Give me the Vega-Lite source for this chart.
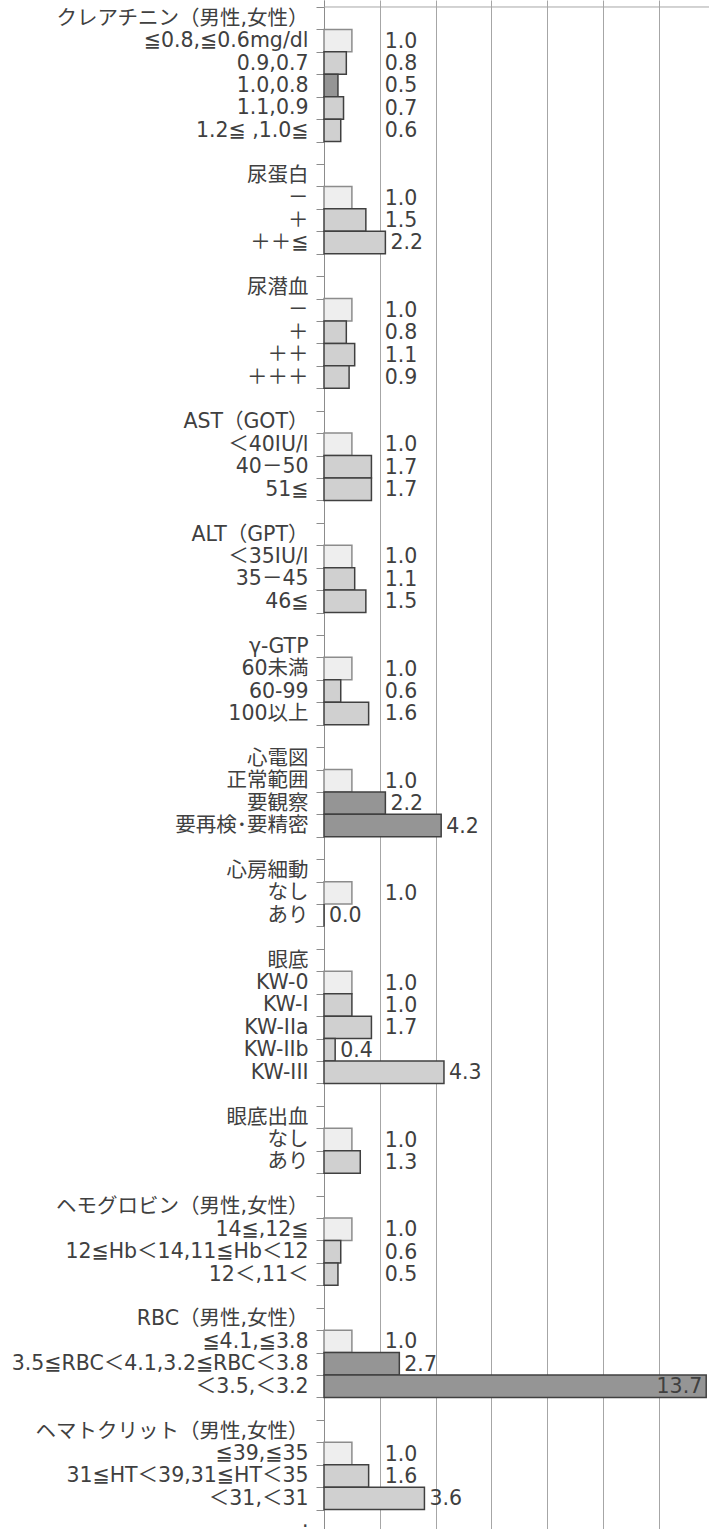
{
  "$schema": "https://vega.github.io/schema/vega-lite/v6.json",
  "autosize": {"type": "none"},
  "padding": {"left": 324, "top": 0, "right": 0, "bottom": 0},
  "width": 385,
  "height": 1539,
  "background": "white",
  "config": {"view": {"stroke": null}, "font": "DejaVu Sans, Noto Sans CJK JP"},
  "data": {"values": [
    {"key": "クレアチニン（男性,女性）|h1"},
    {"key": "≦0.8,≦0.6mg/dl|1", "value": 1.0, "type": "ref"},
    {"key": "0.9,0.7|1", "value": 0.8, "type": "ns"},
    {"key": "1.0,0.8|1", "value": 0.5, "type": "sig"},
    {"key": "1.1,0.9|1", "value": 0.7, "type": "ns"},
    {"key": "1.2≦ ,1.0≦|1", "value": 0.6, "type": "ns"},
    {"key": "|b1"},
    {"key": "尿蛋白|h2"},
    {"key": "－|2", "value": 1.0, "type": "ref"},
    {"key": "＋|2", "value": 1.5, "type": "ns"},
    {"key": "＋＋≦|2", "value": 2.2, "type": "ns"},
    {"key": "|b2"},
    {"key": "尿潜血|h3"},
    {"key": "－|3", "value": 1.0, "type": "ref"},
    {"key": "＋|3", "value": 0.8, "type": "ns"},
    {"key": "＋＋|3", "value": 1.1, "type": "ns"},
    {"key": "＋＋＋|3", "value": 0.9, "type": "ns"},
    {"key": "|b3"},
    {"key": "AST（GOT）|h4"},
    {"key": "＜40IU/l|4", "value": 1.0, "type": "ref"},
    {"key": "40－50|4", "value": 1.7, "type": "ns"},
    {"key": "51≦|4", "value": 1.7, "type": "ns"},
    {"key": "|b4"},
    {"key": "ALT（GPT）|h5"},
    {"key": "＜35IU/l|5", "value": 1.0, "type": "ref"},
    {"key": "35－45|5", "value": 1.1, "type": "ns"},
    {"key": "46≦|5", "value": 1.5, "type": "ns"},
    {"key": "|b5"},
    {"key": "γ-GTP|h6"},
    {"key": "60未満|6", "value": 1.0, "type": "ref"},
    {"key": "60-99|6", "value": 0.6, "type": "ns"},
    {"key": "100以上|6", "value": 1.6, "type": "ns"},
    {"key": "|b6"},
    {"key": "心電図|h7"},
    {"key": "正常範囲|7", "value": 1.0, "type": "ref"},
    {"key": "要観察|7", "value": 2.2, "type": "sig"},
    {"key": "要再検･要精密|7", "value": 4.2, "type": "sig"},
    {"key": "|b7"},
    {"key": "心房細動|h8"},
    {"key": "なし|8", "value": 1.0, "type": "ref"},
    {"key": "あり|8", "value": 0.0, "type": "ns"},
    {"key": "|b8"},
    {"key": "眼底|h9"},
    {"key": "KW-0|9", "value": 1.0, "type": "ref"},
    {"key": "KW-I|9", "value": 1.0, "type": "ns"},
    {"key": "KW-IIa|9", "value": 1.7, "type": "ns"},
    {"key": "KW-IIb|9", "value": 0.4, "type": "ns"},
    {"key": "KW-III|9", "value": 4.3, "type": "ns"},
    {"key": "|b9"},
    {"key": "眼底出血|h10"},
    {"key": "なし|10", "value": 1.0, "type": "ref"},
    {"key": "あり|10", "value": 1.3, "type": "ns"},
    {"key": "|b10"},
    {"key": "ヘモグロビン（男性,女性）|h11"},
    {"key": "14≦,12≦|11", "value": 1.0, "type": "ref"},
    {"key": "12≦Hb＜14,11≦Hb＜12|11", "value": 0.6, "type": "ns"},
    {"key": "12＜,11＜|11", "value": 0.5, "type": "ns"},
    {"key": "|b11"},
    {"key": "RBC（男性,女性）|h12"},
    {"key": "≦4.1,≦3.8|12", "value": 1.0, "type": "ref"},
    {"key": "3.5≦RBC＜4.1,3.2≦RBC＜3.8|12", "value": 2.7, "type": "sig"},
    {"key": "＜3.5,＜3.2|12", "value": 13.7, "type": "sig"},
    {"key": "|b12"},
    {"key": "ヘマトクリット（男性,女性）|h13"},
    {"key": "≦39,≦35|13", "value": 1.0, "type": "ref"},
    {"key": "31≦HT＜39,31≦HT＜35|13", "value": 1.6, "type": "ns"},
    {"key": "＜31,＜31|13", "value": 3.6, "type": "ns"},
    {"key": ".|14"}
  ]},
  "encoding": {
    "y": {
      "field": "key", "type": "nominal", "sort": null,
      "scale": {
        "domain": [
          "クレアチニン（男性,女性）|h1", "≦0.8,≦0.6mg/dl|1", "0.9,0.7|1", "1.0,0.8|1", "1.1,0.9|1", "1.2≦ ,1.0≦|1", "|b1",
          "尿蛋白|h2", "－|2", "＋|2", "＋＋≦|2", "|b2",
          "尿潜血|h3", "－|3", "＋|3", "＋＋|3", "＋＋＋|3", "|b3",
          "AST（GOT）|h4", "＜40IU/l|4", "40－50|4", "51≦|4", "|b4",
          "ALT（GPT）|h5", "＜35IU/l|5", "35－45|5", "46≦|5", "|b5",
          "γ-GTP|h6", "60未満|6", "60-99|6", "100以上|6", "|b6",
          "心電図|h7", "正常範囲|7", "要観察|7", "要再検･要精密|7", "|b7",
          "心房細動|h8", "なし|8", "あり|8", "|b8",
          "眼底|h9", "KW-0|9", "KW-I|9", "KW-IIa|9", "KW-IIb|9", "KW-III|9", "|b9",
          "眼底出血|h10", "なし|10", "あり|10", "|b10",
          "ヘモグロビン（男性,女性）|h11", "14≦,12≦|11", "12≦Hb＜14,11≦Hb＜12|11", "12＜,11＜|11", "|b11",
          "RBC（男性,女性）|h12", "≦4.1,≦3.8|12", "3.5≦RBC＜4.1,3.2≦RBC＜3.8|12", "＜3.5,＜3.2|12", "|b12",
          "ヘマトクリット（男性,女性）|h13", "≦39,≦35|13", "31≦HT＜39,31≦HT＜35|13", "＜31,＜31|13", ".|14"
        ],
        "paddingInner": 0, "paddingOuter": 0.312
      },
      "axis": {
        "title": null,
        "labelExpr": "split(datum.label, '|')[0]",
        "tickBand": "extent",
        "ticks": true,
        "tickSize": 8,
        "tickWidth": 1,
        "tickColor": "#8c8c8c",
        "domainColor": "#8c8c8c",
        "labelFontSize": 20.5,
        "labelColor": "#404040",
        "labelPadding": 8,
        "labelLimit": 400
      }
    }
  },
  "layer": [
    {
      "mark": {"type": "bar", "strokeWidth": 1.5},
      "encoding": {
        "x": {
          "field": "value", "type": "quantitative",
          "scale": {"domain": [0, 13.8], "nice": false, "zero": true},
          "axis": {"title": null, "values": [0, 2, 4, 6, 8, 10, 12], "labels": false, "ticks": false, "domain": false, "grid": true, "gridColor": "#a6a6a6", "gridWidth": 1}
        },
        "fill": {"field": "type", "type": "nominal", "scale": {"domain": ["ref", "ns", "sig"], "range": ["#eeeeee", "#d0d0d0", "#959595"]}, "legend": null},
        "stroke": {"field": "type", "type": "nominal", "scale": {"domain": ["ref", "ns", "sig"], "range": ["#8c8c8c", "#404040", "#404040"]}, "legend": null}
      }
    },
    {
      "transform": [
        {"filter": "isValid(datum.value) && datum.value < 10"},
        {"calculate": "datum.value < 0.45 ? datum.value : max(datum.value, 2)", "as": "lx"}
      ],
      "mark": {"type": "text", "align": "left", "baseline": "middle", "dx": 5, "dy": 1, "fontSize": 20.5, "color": "#404040"},
      "encoding": {
        "x": {"field": "lx", "type": "quantitative"},
        "text": {"field": "value", "type": "quantitative", "format": ".1f"}
      }
    },
    {
      "transform": [{"filter": "isValid(datum.value) && datum.value >= 10"}],
      "mark": {"type": "text", "align": "right", "baseline": "middle", "dx": -4, "dy": 1, "fontSize": 20.5, "color": "#404040"},
      "encoding": {
        "x": {"field": "value", "type": "quantitative"},
        "text": {"field": "value", "type": "quantitative", "format": ".1f"}
      }
    },
    {
      "transform": [{"filter": "datum.key == 'クレアチニン（男性,女性）|h1'"}],
      "mark": {"type": "rule", "color": "#a6a6a6", "strokeWidth": 1},
      "encoding": {
        "y": {"field": "key", "type": "nominal", "bandPosition": 0}
      }
    }
  ]
}
